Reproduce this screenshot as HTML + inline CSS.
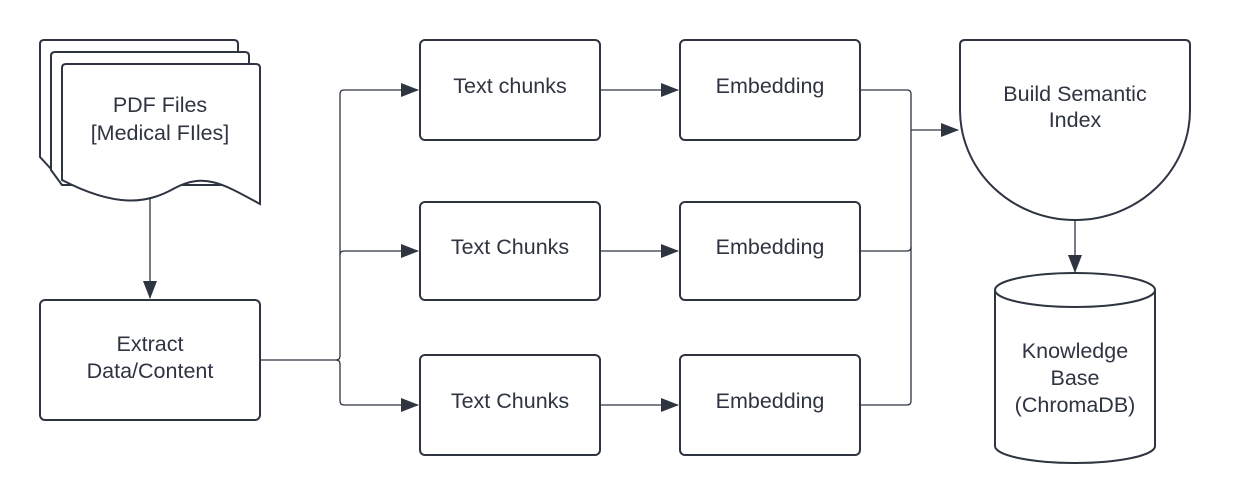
<!DOCTYPE html>
<html><head><style>body{margin:0;background:#fff}svg{display:block}</style></head><body>
<svg width="1235" height="494" xmlns="http://www.w3.org/2000/svg" font-family="Liberation Sans, Arial, sans-serif" font-size="21.5" fill="#2e3440">
<defs>
<marker id="b" markerWidth="18" markerHeight="14" refX="17" refY="7" orient="auto" markerUnits="userSpaceOnUse"><path d="M0,0 L18,7 L0,14 z" fill="#2e3440"/></marker></defs>
<g stroke="#2e3440" stroke-width="2" fill="#fff">
<path d="M44,40 H234 Q238,40 238,44 V170 H52 L40,157 V44 Q40,40 44,40Z"/>
<path d="M55,52 H245 Q249,52 249,56 V185 H62 L51,170 V56 Q51,52 55,52Z"/>
<path d="M66,64 H256 Q260,64 260,68 V204 C225,185 205,172 175,188 C150,202 120,210 62,180 V68 Q62,64 66,64Z"/>
<rect x="40" y="300" width="220" height="120" rx="5"/>
<rect x="420" y="40" width="180" height="100" rx="5"/>
<rect x="420" y="202" width="180" height="98" rx="5"/>
<rect x="420" y="355" width="180" height="100" rx="5"/>
<rect x="680" y="40" width="180" height="100" rx="5"/>
<rect x="680" y="202" width="180" height="98" rx="5"/>
<rect x="680" y="355" width="180" height="100" rx="5"/>
<path d="M965,40 H1185 Q1190,40 1190,45 V110 A115,110 0 0 1 960,110 V45 Q960,40 965,40Z"/>
<path d="M995,290 V446 A80,17 0 0 0 1155,446 V290"/>
<ellipse cx="1075" cy="290" rx="80" ry="17"/>
</g>
<g stroke="#2e3440" stroke-width="1.3" fill="none">
<path d="M150,197 V298" marker-end="url(#b)"/>
<path d="M260,360 H336 Q340,360 340,356 V94 Q340,90 344,90 H418" marker-end="url(#b)"/>
<path d="M340,255 Q340,251 344,251 H418" marker-end="url(#b)"/>
<path d="M336,360 Q340,360 340,364 V401 Q340,405 344,405 H418" marker-end="url(#b)"/>
<path d="M600,90 H678" marker-end="url(#b)"/>
<path d="M600,251 H678" marker-end="url(#b)"/>
<path d="M600,405 H678" marker-end="url(#b)"/>
<path d="M860,90 H907 Q911,90 911,94 V401 Q911,405 907,405 H860"/>
<path d="M860,251 H907 Q911,251 911,247"/>
<path d="M911,130 H958" marker-end="url(#b)"/>
<path d="M1075,220 V272" marker-end="url(#b)"/>
</g>
<g text-anchor="middle">
<text x="160" y="112">PDF Files</text>
<text x="160" y="140">[Medical FIles]</text>
<text x="150" y="351">Extract</text>
<text x="150" y="378">Data/Content</text>
<text x="510" y="93">Text chunks</text>
<text x="510" y="254">Text Chunks</text>
<text x="510" y="408">Text Chunks</text>
<text x="770" y="93">Embedding</text>
<text x="770" y="254">Embedding</text>
<text x="770" y="408">Embedding</text>
<text x="1075" y="101">Build Semantic</text>
<text x="1075" y="127">Index</text>
<text x="1075" y="358">Knowledge</text>
<text x="1075" y="385">Base</text>
<text x="1075" y="412">(ChromaDB)</text>
</g>
</svg>
</body></html>
